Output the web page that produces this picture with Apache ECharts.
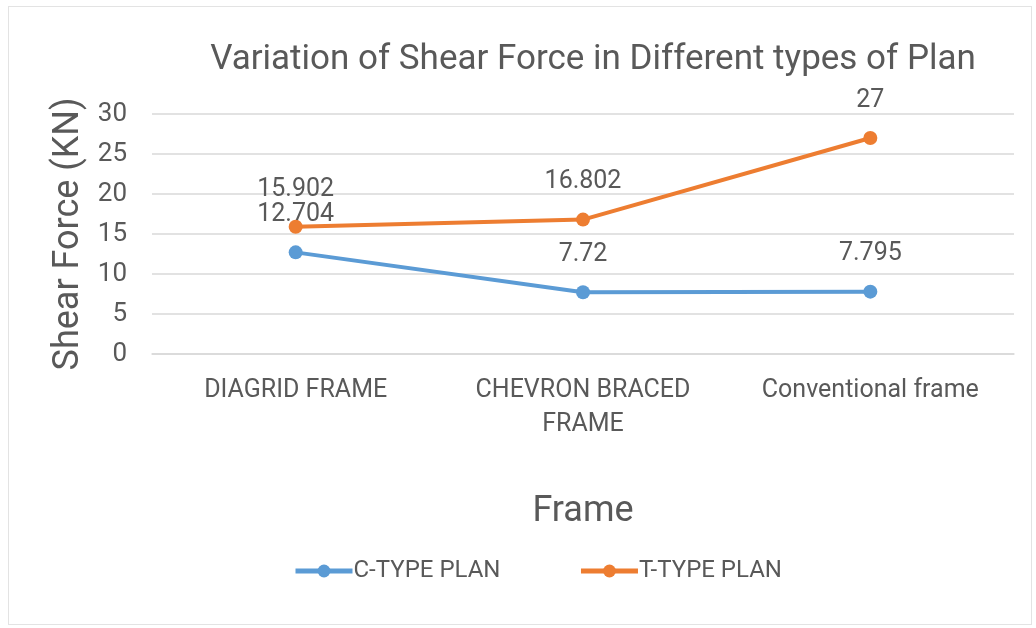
<!DOCTYPE html>
<html>
<head>
<meta charset="utf-8">
<script src="https://cdn.jsdelivr.net/npm/echarts@6/dist/echarts.min.js"></script>
<style>
  html, body { margin: 0; padding: 0; background: #fff; }
  #main { width: 1036px; height: 628px; }
  .frame { position: absolute; left: 8px; top: 6px; width: 1024px; height: 619px; border: 1px solid #e3e3e3; box-sizing: border-box; pointer-events: none; }
</style>
</head>
<body>
<div id="main"></div>
<div class="frame"></div>
<script>
// categories on the x axis
var frames = ['DIAGRID FRAME', 'CHEVRON BRACED\nFRAME', 'Conventional frame'];
// shear force values (KN)
var cType = [12.704, 7.72, 7.795];
var tType = [15.902, 16.802, 27];
var yTicks = [0, 5, 10, 15, 20, 25, 30];

var myChart = echarts.init(document.getElementById('main'));
var txt = '#595959';
var font = 'Roboto';

var option = {
  backgroundColor: '#fff',
  textStyle: { fontFamily: font },
  title: {
    text: 'Variation of Shear Force in Different types of Plan',
    left: 588,
    textAlign: 'center',
    top: 38,
    textStyle: { fontFamily: font, fontSize: 35, fontWeight: 'normal', color: txt }
  },
  legend: {
    left: 288,
    top: 554,
    itemWidth: 57,
    itemHeight: 16,
    itemGap: 78,
    lineStyle: { width: 5 },
    textStyle: { fontFamily: font, fontSize: 24, color: txt, padding: [0, 0, 0, -4] },
    data: ['C-TYPE PLAN', 'T-TYPE PLAN']
  },
  grid: { left: 152, right: 22, top: 114, bottom: 274, containLabel: false },
  xAxis: {
    type: 'category',
    data: frames,
    name: 'Frame',
    nameLocation: 'middle',
    nameGap: 140,
    nameTextStyle: { fontFamily: font, fontSize: 36, color: txt },
    axisLine: { lineStyle: { color: '#d9d9d9', width: 1.5 } },
    axisTick: { show: false },
    axisLabel: { fontFamily: font, fontSize: 25, color: txt, margin: 20, lineHeight: 34, interval: 0 }
  },
  yAxis: {
    type: 'value',
    min: yTicks[0],
    max: yTicks[yTicks.length - 1],
    interval: 5,
    name: 'Shear Force (KN)',
    nameLocation: 'middle',
    nameGap: 62,
    nameRotate: 90,
    nameTextStyle: { fontFamily: font, fontSize: 36, color: txt },
    axisLine: { show: false },
    axisTick: { show: false },
    axisLabel: { fontFamily: font, fontSize: 26, color: txt, margin: 25 },
    splitLine: { lineStyle: { color: '#d9d9d9', width: 1.5 } }
  },
  series: [
    {
      name: 'C-TYPE PLAN',
      type: 'line',
      data: cType,
      symbol: 'circle',
      symbolSize: 14,
      lineStyle: { width: 4, color: '#5B9BD5' },
      itemStyle: { color: '#5B9BD5' },
      label: { show: true, position: 'top', distance: 18, fontFamily: font, fontSize: 25, color: txt },
      z: 3
    },
    {
      name: 'T-TYPE PLAN',
      type: 'line',
      data: tType,
      symbol: 'circle',
      symbolSize: 14,
      lineStyle: { width: 4, color: '#ED7D31' },
      itemStyle: { color: '#ED7D31' },
      label: { show: true, position: 'top', distance: 18, fontFamily: font, fontSize: 25, color: txt },
      z: 4
    }
  ]
};
myChart.setOption(option);
</script>
</body>
</html>
